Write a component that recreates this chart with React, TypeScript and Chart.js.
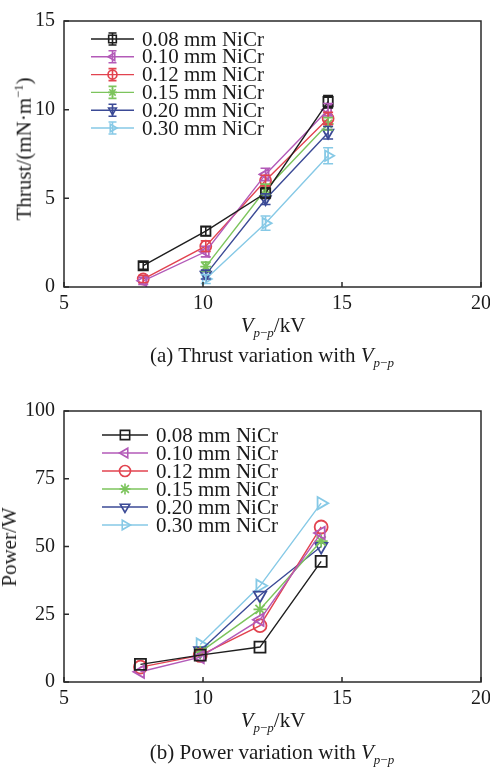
import React, { useEffect, useRef } from 'react';
import { Chart, registerables } from 'chart.js';
import { drawPoint } from 'chart.js/helpers';

Chart.register(...registerables);

const FONT = "'Liberation Serif', 'Times New Roman', serif";
const TEXT = '#1a1a1a';

// Wire samples shared by both panels
const seriesLabels = ['0.08 mm NiCr', '0.10 mm NiCr', '0.12 mm NiCr', '0.15 mm NiCr', '0.20 mm NiCr', '0.30 mm NiCr'];
const seriesColors = ['#1e1e1e', '#b35ab8', '#e2434f', '#7cc45c', '#3b4a96', '#86c9e6'];
const seriesShapes = ['rect', 'triangle', 'circle', 'star', 'triangle', 'triangle'];
const seriesRotations = [0, -90, 0, 0, 180, 90];

// (a) Thrust, mN/m, against peak-to-peak voltage, kV
const thrustVoltsLow = [7.85, 10.1, 12.25, 14.5];
const thrustVoltsHigh = [10.1, 12.25, 14.5];
const thrust008 = [1.2, 3.15, 5.3, 10.45];
const thrust010 = [0.35, 2.0, 6.35, 10.0];
const thrust012 = [0.45, 2.3, 6.0, 9.5];
const thrust015 = [1.15, 5.5, 9.2];
const thrust020 = [0.7, 4.95, 8.7];
const thrust030 = [0.45, 3.6, 7.4];
const thrustErr008 = [0.2, 0.25, 0.3, 0.35];
const thrustErr010 = [0.2, 0.3, 0.35, 0.35];
const thrustErr012 = [0.2, 0.3, 0.3, 0.35];
const thrustErr015 = [0.25, 0.3, 0.35];
const thrustErr020 = [0.25, 0.3, 0.35];
const thrustErr030 = [0.25, 0.4, 0.45];

// (b) Power, W, against peak-to-peak voltage, kV
const powerVoltsLow = [7.75, 9.9, 12.05, 14.25];
const powerVoltsHigh = [9.9, 12.05, 14.25];
const power008 = [6.5, 9.9, 12.9, 44.5];
const power010 = [3.8, 9.2, 23.0, 55.0];
const power012 = [5.5, 9.8, 20.8, 57.2];
const power015 = [11.0, 26.8, 52.0];
const power020 = [11.5, 32.0, 50.0];
const power030 = [13.8, 35.5, 66.0];

const xTicks = [5, 10, 15, 20];
const thrustTicks = [0, 5, 10, 15];
const powerTicks = [0, 25, 50, 75, 100];

const pair = (xs: number[], ys: number[]) => xs.map((x, i) => ({ x, y: ys[i] }));

function makeDatasets(xsList: number[][], ysList: number[][], radius: number) {
  return ysList.map((ys, i) => ({
    label: seriesLabels[i],
    data: pair(xsList[i], ys),
    borderColor: seriesColors[i],
    backgroundColor: 'rgba(255,255,255,0)',
    borderWidth: 1.4,
    pointStyle: seriesShapes[i],
    pointRotation: seriesRotations[i],
    pointRadius: seriesShapes[i] === 'rect' ? radius * 1.2 : seriesShapes[i] === 'triangle' ? radius * 1.1 : radius,
    pointBorderWidth: 1.8,
    pointBorderColor: seriesColors[i],
    pointBackgroundColor: 'rgba(255,255,255,0)',
    tension: 0,
  }));
}

interface DecorOpts {
  errors?: number[][];
  legend: { x1: number; x2: number; textX: number; y0: number; step: number; radius: number; errHalf: number };
}

function decorPlugin(opts: DecorOpts) {
  return {
    id: 'panelDecor',
    afterDatasetsDraw(chart: any) {
      const { ctx, chartArea: a, scales } = chart;
      const xs = scales.x;
      const ys = scales.y;
      ctx.save();
      // error bars crossing each marker
      if (opts.errors) {
        chart.data.datasets.forEach((ds: any, i: number) => {
          const errs = opts.errors![i];
          ctx.strokeStyle = seriesColors[i];
          ctx.lineWidth = 1.6;
          ds.data.forEach((p: any, j: number) => {
            const px = xs.getPixelForValue(p.x);
            const yTop = ys.getPixelForValue(p.y + errs[j]);
            const yBot = ys.getPixelForValue(p.y - errs[j]);
            ctx.beginPath();
            ctx.moveTo(px, yTop);
            ctx.lineTo(px, yBot);
            ctx.moveTo(px - 5, yTop);
            ctx.lineTo(px + 5, yTop);
            ctx.moveTo(px - 5, yBot);
            ctx.lineTo(px + 5, yBot);
            ctx.stroke();
          });
        });
      }
      // plot frame
      ctx.strokeStyle = '#2a2a2a';
      ctx.lineWidth = 1.5;
      ctx.strokeRect(a.left, a.top, a.right - a.left, a.bottom - a.top);
      // inward tick marks
      ctx.beginPath();
      xs.ticks.forEach((t: any) => {
        const px = xs.getPixelForValue(t.value);
        ctx.moveTo(px, a.bottom);
        ctx.lineTo(px, a.bottom - 5);
      });
      ys.ticks.forEach((t: any) => {
        const py = ys.getPixelForValue(t.value);
        ctx.moveTo(a.left, py);
        ctx.lineTo(a.left + 5, py);
      });
      ctx.stroke();
      // legend inside the plot
      const L = opts.legend;
      ctx.font = `21px ${FONT}`;
      ctx.textBaseline = 'middle';
      ctx.textAlign = 'left';
      seriesLabels.forEach((label, i) => {
        const y = L.y0 + i * L.step;
        const mx = (L.x1 + L.x2) / 2;
        ctx.strokeStyle = seriesColors[i];
        ctx.fillStyle = 'rgba(255,255,255,0)';
        ctx.lineWidth = 1.4;
        ctx.beginPath();
        ctx.moveTo(L.x1, y);
        ctx.lineTo(L.x2, y);
        ctx.stroke();
        ctx.lineWidth = 1.6;
        drawPoint(ctx, {
          pointStyle: seriesShapes[i],
          rotation: seriesRotations[i],
          radius: seriesShapes[i] === 'rect' ? L.radius * 1.2 : L.radius,
          borderWidth: 1.6,
        } as any, mx, y);
        if (L.errHalf > 0) {
          ctx.beginPath();
          ctx.moveTo(mx, y - L.errHalf);
          ctx.lineTo(mx, y + L.errHalf);
          ctx.moveTo(mx - 4, y - L.errHalf);
          ctx.lineTo(mx + 4, y - L.errHalf);
          ctx.moveTo(mx - 4, y + L.errHalf);
          ctx.lineTo(mx + 4, y + L.errHalf);
          ctx.stroke();
        }
        ctx.fillStyle = TEXT;
        ctx.fillText(label, L.textX, y + 1);
      });
      ctx.restore();
    },
  };
}

const CANVAS_W = 530;
const CANVAS_H = 330;
const PLOT_LEFT = 64;
const PLOT_RIGHT = 481;

function buildConfig(
  datasets: any[],
  yTicks: number[],
  plotTop: number,
  plotBottom: number,
  plugin: any,
) {
  const tickFont = { family: FONT, size: 20 };
  return {
    type: 'line' as const,
    data: { datasets },
    plugins: [plugin],
    options: {
      responsive: false,
      animation: false as const,
      devicePixelRatio: 1,
      layout: { padding: { left: 0, top: plotTop, right: CANVAS_W - PLOT_RIGHT, bottom: 0 } },
      plugins: { legend: { display: false }, tooltip: { enabled: false } },
      scales: {
        x: {
          type: 'linear' as const,
          min: xTicks[0],
          max: xTicks[xTicks.length - 1],
          afterBuildTicks: (s: any) => { s.ticks = xTicks.map((v) => ({ value: v })); },
          ticks: { font: tickFont, color: TEXT, padding: 5 },
          grid: { display: false, drawTicks: false },
          border: { display: false },
          afterFit: (s: any) => { s.height = CANVAS_H - plotBottom; },
        },
        y: {
          type: 'linear' as const,
          min: yTicks[0],
          max: yTicks[yTicks.length - 1],
          afterBuildTicks: (s: any) => { s.ticks = yTicks.map((v) => ({ value: v })); },
          ticks: { font: tickFont, color: TEXT, padding: 9 },
          grid: { display: false, drawTicks: false },
          border: { display: false },
          afterFit: (s: any) => { s.width = PLOT_LEFT; },
        },
      },
    },
  };
}

const Vpp = () => (
  <span>
    <i>V</i>
    <sub style={{ fontSize: '0.62em', verticalAlign: '-0.35em' }}>
      <i>p</i>−<i>p</i>
    </sub>
  </span>
);

const textStyle: React.CSSProperties = {
  position: 'absolute',
  fontFamily: FONT,
  fontSize: 21,
  color: TEXT,
  whiteSpace: 'nowrap',
  lineHeight: '24px',
};

export default function App() {
  const thrustRef = useRef<HTMLCanvasElement>(null);
  const powerRef = useRef<HTMLCanvasElement>(null);

  useEffect(() => {
    const thrustSets = makeDatasets(
      [thrustVoltsLow, thrustVoltsLow, thrustVoltsLow, thrustVoltsHigh, thrustVoltsHigh, thrustVoltsHigh],
      [thrust008, thrust010, thrust012, thrust015, thrust020, thrust030],
      5.5,
    );
    const powerSets = makeDatasets(
      [powerVoltsLow, powerVoltsLow, powerVoltsLow, powerVoltsHigh, powerVoltsHigh, powerVoltsHigh],
      [power008, power010, power012, power015, power020, power030],
      6.5,
    );
    const thrustChart = new Chart(
      thrustRef.current!,
      buildConfig(
        thrustSets,
        thrustTicks,
        14,
        287,
        decorPlugin({
          errors: [thrustErr008, thrustErr010, thrustErr012, thrustErr015, thrustErr020, thrustErr030],
          legend: { x1: 91, x2: 134, textX: 142, y0: 39, step: 17.8, radius: 4.5, errHalf: 6 },
        }),
      ) as any,
    );
    const powerChart = new Chart(
      powerRef.current!,
      buildConfig(
        powerSets,
        powerTicks,
        18,
        292,
        decorPlugin({
          legend: { x1: 102, x2: 148, textX: 156, y0: 45, step: 18, radius: 5.5, errHalf: 0 },
        }),
      ) as any,
    );
    return () => {
      thrustChart.destroy();
      powerChart.destroy();
    };
  }, []);

  return (
    <div
      style={{
        position: 'absolute',
        left: 0,
        top: 0,
        width: 490,
        height: 769,
        overflow: 'hidden',
        background: '#fff',
      }}
    >
      <canvas
        ref={thrustRef}
        width={CANVAS_W}
        height={CANVAS_H}
        style={{ position: 'absolute', left: 0, top: 0, width: CANVAS_W, height: CANVAS_H }}
      />
      <canvas
        ref={powerRef}
        width={CANVAS_W}
        height={CANVAS_H}
        style={{ position: 'absolute', left: 0, top: 390, width: CANVAS_W, height: CANVAS_H }}
      />

      <div style={{ ...textStyle, left: 21, top: 149, transform: 'translate(-50%, -50%) rotate(-90deg)' }}>
        Thrust/(mN·m<sup style={{ fontSize: '0.6em', verticalAlign: '0.6em' }}>−1</sup>)
      </div>
      <div style={{ ...textStyle, left: 273, top: 313, transform: 'translateX(-50%)' }}>
        <Vpp />/kV
      </div>
      <div style={{ ...textStyle, left: 272, top: 343, transform: 'translateX(-50%)' }}>
        (a) Thrust variation with <Vpp />
      </div>

      <div style={{ ...textStyle, left: 9, top: 547, transform: 'translate(-50%, -50%) rotate(-90deg)' }}>
        Power/W
      </div>
      <div style={{ ...textStyle, left: 273, top: 708, transform: 'translateX(-50%)' }}>
        <Vpp />/kV
      </div>
      <div style={{ ...textStyle, left: 272, top: 740, transform: 'translateX(-50%)' }}>
        (b) Power variation with <Vpp />
      </div>
    </div>
  );
}
